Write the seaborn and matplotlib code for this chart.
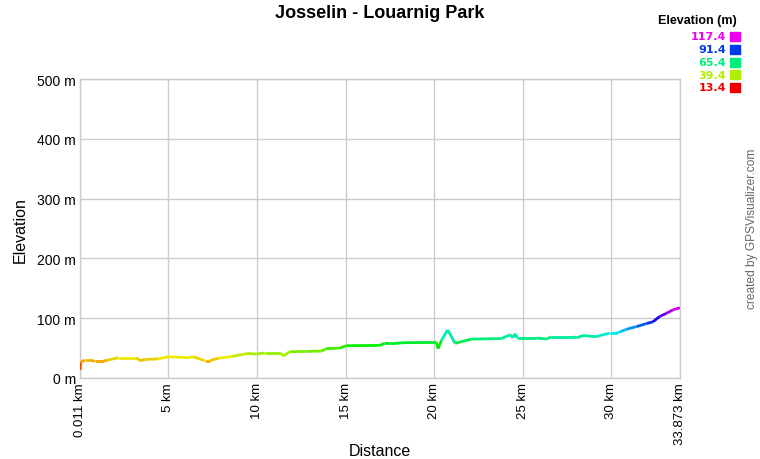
import matplotlib
matplotlib.use("Agg")
import matplotlib.pyplot as plt
import seaborn as sns
import numpy as np
import pandas as pd
from matplotlib.collections import LineCollection
from matplotlib.colors import ListedColormap, Normalize, hsv_to_rgb
from matplotlib.patches import Rectangle

# distance (km) and elevation (m)
distance_km = [0.011, 0.04, 0.28, 0.56, 0.85, 1.3, 1.6, 2.16, 3.2, 3.39, 3.67, 4.42, 4.98,
               6.1, 6.4, 7.05, 7.34, 7.8, 8.56, 9.5, 9.97, 10.44, 11.29, 11.5, 11.85,
               12.8, 13.64, 13.9, 14.67, 15.05, 16.93, 17.2, 17.68, 18.25, 20.13, 20.22,
               20.41, 20.76, 21.18, 21.44, 22.1, 23.8, 24.3, 24.43, 24.55, 24.7, 25.77,
               26.34, 26.62, 27.84, 28.03, 28.4, 29.16, 29.35, 29.9, 30.29, 30.47, 30.85,
               31.42, 31.98, 32.35, 32.73, 33.1, 33.48, 33.873]
elevation_m = [13.4, 26, 30, 30, 28, 28, 30, 34, 34, 29, 31, 32, 35.5,
               34, 35.5, 29, 29, 33, 36, 41, 40, 42, 42, 37, 44,
               44.5, 45, 49, 50, 54, 54.5, 58, 57.5, 59, 59.5, 49,
               63, 80.5, 58, 60, 65, 66, 72.5, 67, 74, 67, 67,
               65, 69, 69, 67, 71, 69, 71, 75, 75, 77, 81.5,
               86, 91, 94, 103, 108, 114, 117.4]

legend_values = [117.4, 91.4, 65.4, 39.4, 13.4]
x_ticks = [0.011, 5, 10, 15, 20, 25, 30, 33.873]
x_tick_labels = ["0.011 km", "5 km", "10 km", "15 km", "20 km", "25 km", "30 km", "33.873 km"]
y_ticks = [0, 100, 200, 300, 400, 500]
y_tick_labels = ["0 m", "100 m", "200 m", "300 m", "400 m", "500 m"]

df = pd.DataFrame({"distance": distance_km, "elevation": elevation_m})

sns.set_style("white")
plt.rcParams["font.family"] = ["Liberation Sans", "DejaVu Sans"]
plt.rcParams["text.color"] = "black"
plt.rcParams["xtick.color"] = "black"
plt.rcParams["ytick.color"] = "black"

# red -> yellow -> green -> cyan -> blue -> magenta, like GPSVisualizer
hues = np.linspace(0, 300 / 360, 256)
cmap = ListedColormap(hsv_to_rgb(np.column_stack([hues, np.ones(256), np.full(256, 0.93)])))
norm = Normalize(vmin=min(legend_values), vmax=max(legend_values))

fig = plt.figure(figsize=(7.6, 4.6), dpi=100)
ax = fig.add_axes([80 / 760, 81 / 460, 600 / 760, 299 / 460])

pts = df[["distance", "elevation"]].to_numpy()
segs = np.stack([pts[:-1], pts[1:]], axis=1)
seg_elev = (df["elevation"].to_numpy()[:-1] + df["elevation"].to_numpy()[1:]) / 2
lc = LineCollection(segs, colors=cmap(norm(seg_elev)), linewidths=2, capstyle="butt", zorder=3)
ax.add_collection(lc)

ax.set_xlim(x_ticks[0], x_ticks[-1])
ax.set_ylim(0, 500)
ax.set_xticks(x_ticks)
ax.set_xticklabels(x_tick_labels, rotation=90, fontsize=9.5, va="top")
ax.set_yticks(y_ticks)
ax.set_yticklabels(y_tick_labels, fontsize=10)
ax.tick_params(length=0, pad=3)
ax.grid(True, color="#cccccc", linewidth=1)
for s in ax.spines.values():
    s.set_color("#cccccc")
    s.set_linewidth(1)

fig.text(380 / 760, 1 - 14 / 460, "Josselin - Louarnig Park", ha="center", va="center",
         fontsize=13, fontweight="bold")
fig.text(380 / 760, 1 - 452 / 460, "Distance", ha="center", va="center", fontsize=11.5)
fig.text(20 / 760, 1 - 230 / 460, "Elevation", ha="center", va="center", fontsize=11.5, rotation=90)
fig.text(752 / 760, 1 - 229 / 460, "created by GPSVisualizer.com", ha="center", va="center",
         fontsize=8.6, rotation=90, color="#666666")

# colour key
fig.text(737 / 760, 1 - 21 / 460, "Elevation (m)", ha="right", va="center", fontsize=9,
         fontweight="bold")
for i, v in enumerate(legend_values):
    yc = 37.5 + i * 12.75
    col = cmap(norm(v))
    fig.text(726 / 760, 1 - yc / 460, f"{v:.1f}", ha="right", va="center", fontsize=8,
             fontweight="bold", color=col, family="DejaVu Sans")
    fig.patches.append(Rectangle((730 / 760, 1 - (yc + 4.5) / 460), 10 / 760, 9 / 460,
                                 transform=fig.transFigure, color=col, figure=fig))

fig.savefig("out.png", dpi=100)
